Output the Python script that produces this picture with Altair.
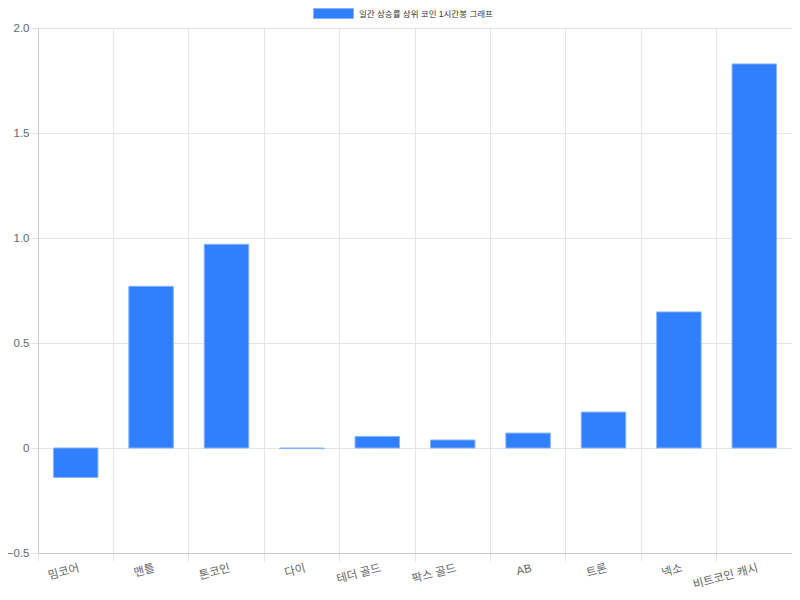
import altair as alt
import pandas as pd

coins = ["밈코어", "맨틀", "톤코인", "다이", "테더 골드", "팍스 골드", "AB", "트론", "넥소", "비트코인 캐시"]
values = [-0.14, 0.77, 0.97, -0.003, 0.055, 0.038, 0.071, 0.171, 0.648, 1.829]
series_name = "일간 상승률 상위 코인 1시간봉 그래프"
y_ticks = [-0.5, 0, 0.5, 1.0, 1.5, 2.0]

df = pd.DataFrame({"coin": coins, "value": values, "series": [series_name] * len(coins)})

FONT = "Liberation Sans, Noto Sans CJK KR, sans-serif"
GRID = "#e5e5e5"

chart = alt.Chart(df).mark_bar(
    stroke="#86b4ff", strokeWidth=1, width=alt.RelativeBandSize(0.59)
).encode(
    x=alt.X("coin:N", sort=coins, title=None,
            scale=alt.Scale(paddingInner=0, paddingOuter=0),
            axis=alt.Axis(labelAngle=-15, labelAlign="right", labelBaseline="top",
                          labelPadding=1, tickSize=8, bandPosition=0, grid=True,
                          gridColor=GRID, tickColor=GRID, domainColor="#cccccc",
                          labelColor="#666666", labelFontSize=11.5, labelFont=FONT,
                          labelOffset=2)),
    y=alt.Y("value:Q", title=None,
            scale=alt.Scale(domain=[-0.5, 2.0], nice=False, zero=False),
            axis=alt.Axis(values=y_ticks, tickSize=8, labelPadding=1,
                          labelExpr="datum.value == 0 ? '0' : format(datum.value, '.1f')",
                          gridColor=GRID, tickColor=GRID, domainColor="#cccccc",
                          labelColor="#666666", labelFontSize=11.5, labelFont=FONT)),
    color=alt.Color("series:N", scale=alt.Scale(range=["#2f7ffe"]),
                    legend=alt.Legend(title=None, orient="none", legendX=275, legendY=-35,
                                      symbolType="M-1,-0.25H1V0.25H-1Z", symbolSize=1600,
                                      symbolStrokeColor="#86b4ff", symbolStrokeWidth=1,
                                      symbolOpacity=1,
                                      labelFontSize=8.5, labelColor="#333333", labelFont=FONT,
                                      labelOffset=5, padding=0))
).properties(
    width=754, height=525,
    autosize=alt.AutoSizeParams(type="none"),
    padding={"left": 30, "top": 20, "right": 0, "bottom": 39}
).configure_view(stroke=GRID).configure_axis(domainWidth=1, gridWidth=1, tickWidth=1)

chart.save("out.html", embed_options={"renderer": "svg", "actions": False})
